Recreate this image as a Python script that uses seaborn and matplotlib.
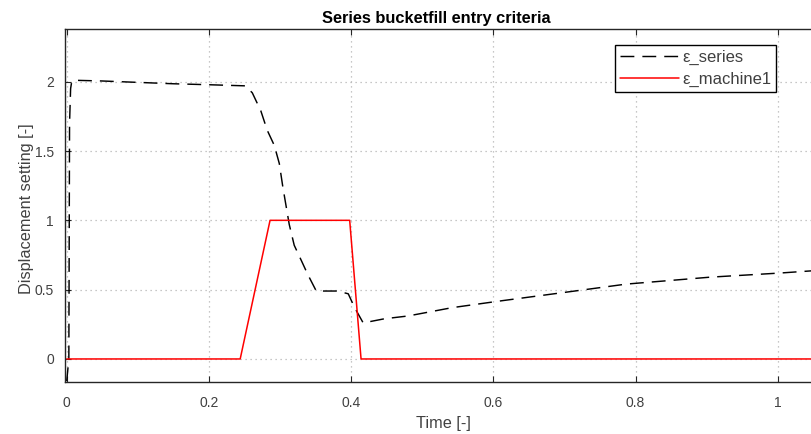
import matplotlib
matplotlib.use("Agg")
import matplotlib.pyplot as plt
import seaborn as sns
import pandas as pd

# Displacement setting traces over normalised time
t_series = [0.0, 0.003, 0.004, 0.0055, 0.007, 0.012, 0.05, 0.1, 0.15, 0.2, 0.251,
            0.261, 0.273, 0.282, 0.292, 0.299, 0.304, 0.308, 0.313, 0.320, 0.330,
            0.339, 0.351, 0.381, 0.396, 0.405, 0.417, 0.447, 0.480, 0.542, 0.612,
            0.700, 0.787, 0.905, 1.004, 1.06]
eps_series = [-0.16, 0.0, 1.70, 1.95, 2.00, 2.01, 2.005, 1.995, 1.985, 1.978, 1.97,
              1.92, 1.79, 1.65, 1.54, 1.41, 1.24, 1.12, 0.97, 0.82, 0.71,
              0.61, 0.49, 0.49, 0.47, 0.37, 0.26, 0.29, 0.31, 0.37, 0.42,
              0.48, 0.54, 0.59, 0.62, 0.64]

t_machine = [0.0, 0.244, 0.286, 0.398, 0.414, 1.06]
eps_machine1 = [0.0, 0.0, 1.0, 1.0, 0.0, 0.0]

x_ticks = [0, 0.2, 0.4, 0.6, 0.8, 1]
x_tick_labels = ["0", "0.2", "0.4", "0.6", "0.8", "1"]
y_ticks = [0, 0.5, 1, 1.5, 2]
y_tick_labels = ["0", "0.5", "1", "1.5", "2"]

sns.set_theme(style="white")
plt.rcParams["font.family"] = ["Liberation Sans", "DejaVu Sans"]

text_col = "#404040"
fig = plt.figure(figsize=(8.11, 4.34), dpi=100)
W, H = 811, 434
# axes run past the right edge of the figure
x0_px, x1_px = 65.0, 66.7 + 711 * 1.10
ax = fig.add_axes([x0_px / W, (H - 381.7) / H, (x1_px - x0_px) / W, (381.7 - 29) / H])

df_s = pd.DataFrame({"t": t_series, "v": eps_series})
df_m = pd.DataFrame({"t": t_machine, "v": eps_machine1})

dash_pat = (9.5, 5.5)
sns.lineplot(data=df_s, x="t", y="v", ax=ax, color="black", lw=1.05,
             dashes=False, sort=False, estimator=None, label="\u03b5_series")
ax.lines[-1].set_dashes(dash_pat)
sns.lineplot(data=df_m, x="t", y="v", ax=ax, color="#ff0000", lw=1.1,
             sort=False, estimator=None, label="\u03b5_machine1")

ax.set_xlim(-0.0024, 1.10)
ax.set_ylim(-0.164, 2.38)
ax.set_xticks(x_ticks)
ax.set_xticklabels(x_tick_labels)
ax.set_yticks(y_ticks)
ax.set_yticklabels(y_tick_labels)

ax.grid(True, color="#b5b5b5", linestyle=(0, (1, 3)), linewidth=0.9)
for s in ax.spines.values():
    s.set_color("#262626")
    s.set_linewidth(1.0)
ax.tick_params(axis="both", direction="in", length=4, width=0.8, colors="#262626",
               labelcolor=text_col, labelsize=10, top=True, right=True,
               bottom=True, left=True)
ax.tick_params(axis="x", pad=10)
ax.tick_params(axis="y", pad=8)

ax.set_xlabel("")
ax.set_ylabel("")
fig.text(443.7 / W, 1 - 428.3 / H, "Time [-]", ha="center", va="baseline",
         fontsize=11.7, color=text_col)
fig.text(31 / W, 1 - 209 / H, "Displacement setting [-]", ha="center",
         va="baseline", rotation=90, rotation_mode="anchor", fontsize=11.7,
         color=text_col)
fig.text(436.5 / W, 1 - 23.5 / H, "Series bucketfill entry criteria", ha="center",
         va="baseline", fontsize=11.8, fontweight="bold", color="black")

leg = ax.legend(loc="upper left", bbox_to_anchor=(615 / W, 1 - 45 / H),
                bbox_transform=fig.transFigure, borderaxespad=0,
                frameon=True, fancybox=False, framealpha=1, edgecolor="black",
                fontsize=12, handlelength=3.5, handletextpad=0.2,
                labelspacing=0.38, borderpad=0.32)
leg.get_frame().set_linewidth(1.0)
for t in leg.get_texts():
    t.set_color(text_col)
leg.get_lines()[0].set_dashes(dash_pat)

fig.savefig("out.png", dpi=100)
